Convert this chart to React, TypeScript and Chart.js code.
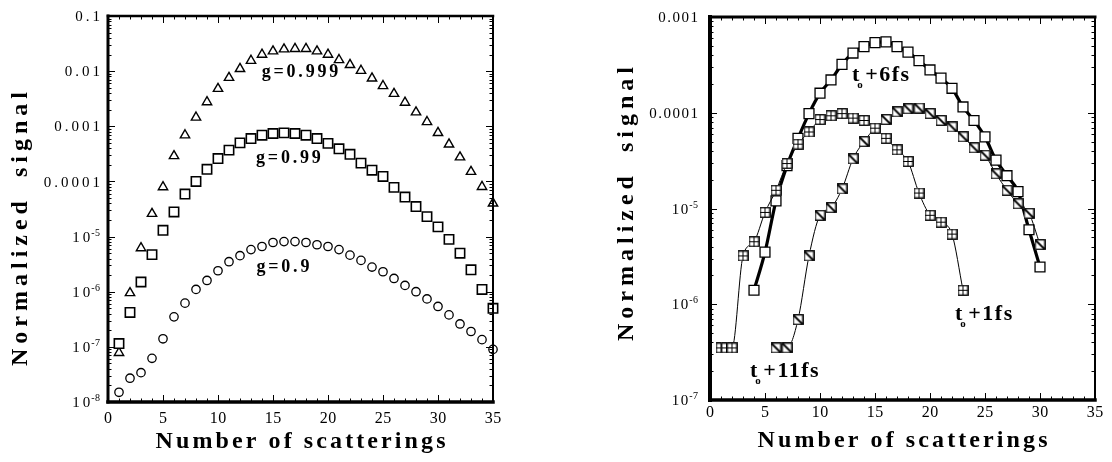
import React, { useEffect, useRef } from 'react';
import { Chart, registerables } from 'chart.js';
Chart.register(...registerables);

const SERIF = '"Liberation Serif", "Times New Roman", "DejaVu Serif", serif';

// ---------- Left panel data ----------
const scatterings = [1, 2, 3, 4, 5, 6, 7, 8, 9, 10, 11, 12, 13, 14, 15, 16, 17, 18, 19, 20, 21, 22, 23, 24, 25, 26, 27, 28, 29, 30, 31, 32, 33, 34, 35];
const g999 = [7.8e-8, 9.5e-7, 6.2e-6, 2.6e-5, 7.9e-5, 2.9e-4, 6.9e-4, 1.45e-3, 2.75e-3, 4.8e-3, 7.6e-3, 1.1e-2, 1.55e-2, 2.0e-2, 2.3e-2, 2.5e-2, 2.55e-2, 2.55e-2, 2.3e-2, 2.0e-2, 1.6e-2, 1.3e-2, 1.02e-2, 7.4e-3, 5.4e-3, 3.9e-3, 2.7e-3, 1.8e-3, 1.2e-3, 7.6e-4, 4.7e-4, 2.75e-4, 1.5e-4, 8e-5, 4e-5];
const g99 = [1.15e-7, 4.2e-7, 1.5e-6, 4.7e-6, 1.3e-5, 2.8e-5, 5.9e-5, 1.0e-4, 1.66e-4, 2.6e-4, 3.7e-4, 5.0e-4, 6.0e-4, 6.9e-4, 7.4e-4, 7.6e-4, 7.4e-4, 6.9e-4, 6.0e-4, 4.9e-4, 3.9e-4, 3.1e-4, 2.15e-4, 1.6e-4, 1.23e-4, 7.8e-5, 5.2e-5, 3.5e-5, 2.3e-5, 1.5e-5, 8.9e-6, 5e-6, 2.5e-6, 1.1e-6, 5e-7];
const g9 = [1.5e-8, 2.7e-8, 3.4e-8, 6.2e-8, 1.4e-7, 3.5e-7, 6.2e-7, 1.1e-6, 1.6e-6, 2.4e-6, 3.5e-6, 4.5e-6, 5.8e-6, 6.6e-6, 7.8e-6, 8.1e-6, 8.1e-6, 7.8e-6, 7.1e-6, 6.6e-6, 5.8e-6, 4.6e-6, 3.7e-6, 2.8e-6, 2.3e-6, 1.74e-6, 1.3e-6, 1.0e-6, 7.4e-7, 5.4e-7, 3.8e-7, 2.6e-7, 1.9e-7, 1.35e-7, 9e-8];

// ---------- Right panel data ----------
const xSix = [4, 5, 6, 7, 8, 9, 10, 11, 12, 13, 14, 15, 16, 17, 18, 19, 20, 21, 22, 23, 24, 25, 26, 27, 28, 29, 30];
const t6 = [1.4e-6, 3.5e-6, 1.2e-5, 2.8e-5, 5.4e-5, 9.8e-5, 1.6e-4, 2.2e-4, 3.2e-4, 4.2e-4, 4.9e-4, 5.4e-4, 5.5e-4, 4.9e-4, 4.3e-4, 3.5e-4, 2.8e-4, 2.3e-4, 1.8e-4, 1.15e-4, 8.3e-5, 5.6e-5, 3.2e-5, 2.2e-5, 1.5e-5, 6e-6, 2.45e-6];
const xOne = [1, 1.5, 2, 3, 4, 5, 6, 7, 8, 9, 10, 11, 12, 13, 14, 15, 16, 17, 18, 19, 20, 21, 22, 23];
const t1 = [3.5e-7, 3.5e-7, 3.5e-7, 3.2e-6, 4.5e-6, 9.1e-6, 1.55e-5, 2.95e-5, 4.7e-5, 6.3e-5, 8.5e-5, 9.3e-5, 9.8e-5, 8.8e-5, 8.3e-5, 6.9e-5, 5.4e-5, 4.1e-5, 3.1e-5, 1.45e-5, 8.5e-6, 7.2e-6, 5.4e-6, 1.4e-6];
const xEleven = [6, 7, 8, 9, 10, 11, 12, 13, 14, 15, 16, 17, 18, 19, 20, 21, 22, 23, 24, 25, 26, 27, 28, 29, 30];
const t11 = [3.5e-7, 3.5e-7, 6.9e-7, 3.2e-6, 8.5e-6, 1.02e-5, 1.6e-5, 3.3e-5, 5.0e-5, 6.9e-5, 8.5e-5, 1.02e-4, 1.1e-4, 1.12e-4, 9.8e-5, 8.3e-5, 7.1e-5, 5.6e-5, 4.3e-5, 3.6e-5, 2.3e-5, 1.55e-5, 1.12e-5, 8.9e-6, 4.2e-6];

// ---------- Tick labels ----------
const xTickValues = [0, 5, 10, 15, 20, 25, 30, 35];
const xTickLabels = ['0', '5', '10', '15', '20', '25', '30', '35'];
const leftYTickValues = [1e-1, 1e-2, 1e-3, 1e-4, 1e-5, 1e-6, 1e-7, 1e-8];
const leftYTickLabels = ['0.1', '0.01', '0.001', '0.0001', '10^-5', '10^-6', '10^-7', '10^-8'];
const rightYTickValues = [1e-3, 1e-4, 1e-5, 1e-6, 1e-7];
const rightYTickLabels = ['0.001', '0.0001', '10^-5', '10^-6', '10^-7'];

const xTitle = 'Number of scatterings';
const yTitle = 'Normalized signal';

function pts(xs: number[], ys: number[]) {
  return xs.map((x, i) => ({ x, y: ys[i] }));
}

function drawSpaced(ctx: CanvasRenderingContext2D, text: string, x: number, y: number, spacing: number, align: 'left' | 'center' | 'right') {
  (ctx as any).letterSpacing = spacing + 'px';
  ctx.textAlign = 'left';
  const w = ctx.measureText(text).width - spacing;
  let sx = x;
  if (align === 'center') sx = x - w / 2;
  else if (align === 'right') sx = x - w;
  ctx.fillText(text, sx, y);
  (ctx as any).letterSpacing = '0px';
}

const paperPlugin = {
  id: 'paper',
  afterDatasetsDraw(chart: any, _args: any, o: any) {
    const ctx: CanvasRenderingContext2D = chart.ctx;
    const a = chart.chartArea;
    const xs = chart.scales.x;
    const ys = chart.scales.y;
    ctx.save();
    ctx.fillStyle = '#000';
    ctx.strokeStyle = '#000';
    ctx.lineWidth = 1;
    const line = (x1: number, y1: number, x2: number, y2: number) => {
      ctx.beginPath();
      ctx.moveTo(x1, y1);
      ctx.lineTo(x2, y2);
      ctx.stroke();
    };
    // x ticks (inward, top and bottom)
    for (let v = xs.min; v <= xs.max + 1e-9; v += 1) {
      const px = Math.round(xs.getPixelForValue(v)) + 0.5;
      const len = v % 5 === 0 ? o.major : o.minor;
      line(px, a.bottom, px, a.bottom - len);
      line(px, a.top, px, a.top + len);
    }
    // y ticks (log, inward)
    const e0 = Math.round(Math.log10(ys.min));
    const e1 = Math.round(Math.log10(ys.max));
    for (let e = e0; e <= e1; e++) {
      for (let k = 1; k <= 9; k++) {
        const v = k * Math.pow(10, e);
        if (v > ys.max * 1.0001) break;
        const py = Math.round(ys.getPixelForValue(v)) + 0.5;
        const len = k === 1 ? o.major : o.minor;
        line(a.left, py, a.left + len, py);
        line(a.right, py, a.right - len, py);
      }
    }
    // frame
    ctx.lineCap = 'square';
    ctx.lineWidth = o.frame.left;
    line(a.left, a.top, a.left, a.bottom);
    ctx.lineWidth = o.frame.bottom;
    line(a.left, a.bottom, a.right, a.bottom);
    ctx.lineWidth = o.frame.top;
    line(a.left, a.top, a.right, a.top);
    ctx.lineWidth = o.frame.right;
    line(a.right, a.top, a.right, a.bottom);
    ctx.lineCap = 'butt';

    // y tick labels
    ctx.textBaseline = 'alphabetic';
    const yl = o.yLabels;
    yl.values.forEach((v: number, i: number) => {
      const py = ys.getPixelForValue(v);
      const lab: string = yl.labels[i];
      const right = a.left - yl.gap;
      if (lab.includes('^')) {
        const [b, e] = lab.split('^');
        ctx.font = `${yl.expSize}px ${SERIF}`;
        (ctx as any).letterSpacing = '0px';
        const ew = ctx.measureText(e).width;
        drawSpaced(ctx, e, right, py - 1, 0.5, 'right');
        ctx.font = `${yl.size}px ${SERIF}`;
        drawSpaced(ctx, b, right - ew - 1.5, py + yl.size * 0.34, yl.spacing, 'right');
      } else {
        ctx.font = `${yl.size}px ${SERIF}`;
        drawSpaced(ctx, lab, right, py + yl.size * 0.34, yl.spacing, 'right');
      }
    });
    // x tick labels
    const xl = o.xLabels;
    ctx.font = `${xl.size}px ${SERIF}`;
    xl.values.forEach((v: number, i: number) => {
      const px = xs.getPixelForValue(v);
      drawSpaced(ctx, xl.labels[i], px, a.bottom + xl.offset + xl.size * 0.34, xl.spacing, 'center');
    });
    // axis titles
    const tt = o.titles;
    ctx.font = `bold ${tt.size}px ${SERIF}`;
    drawSpaced(ctx, tt.x, (a.left + a.right) / 2, tt.xBaseline, tt.xSpacing, 'center');
    ctx.save();
    ctx.translate(tt.yBaselineX, tt.yCenter);
    ctx.rotate(-Math.PI / 2);
    (ctx as any).wordSpacing = tt.yWordSpacing + 'px';
    drawSpaced(ctx, tt.y, 0, 0, tt.ySpacing, 'center');
    (ctx as any).wordSpacing = '0px';
    ctx.restore();

    // annotations
    (o.notes || []).forEach((n: any) => {
      const px = xs.getPixelForValue(n.x);
      const py = ys.getPixelForValue(n.y);
      if (n.kind === 'plain') {
        ctx.font = `bold ${n.size}px ${SERIF}`;
        drawSpaced(ctx, n.text, px, py, n.spacing, 'center');
      } else {
        ctx.font = `bold ${n.size}px ${SERIF}`;
        (ctx as any).letterSpacing = '0px';
        ctx.textAlign = 'left';
        ctx.fillText('t', px, py);
        const tw = ctx.measureText('t').width;
        ctx.font = `bold ${Math.round(n.size * 0.5)}px ${SERIF}`;
        ctx.fillText('o', px + tw - 2, py + 7);
        ctx.font = `bold ${n.size}px ${SERIF}`;
        drawSpaced(ctx, n.text, px + tw + 6, py, n.spacing, 'left');
      }
    });
    ctx.restore();
  },
};

function makeMarker(kind: 'plus' | 'diag') {
  const c = document.createElement('canvas');
  const s = 11;
  c.width = s;
  c.height = s;
  const g = c.getContext('2d') as CanvasRenderingContext2D;
  g.fillStyle = '#fff';
  g.fillRect(0, 0, s, s);
  g.strokeStyle = '#000';
  g.lineWidth = 1.3;
  g.strokeRect(0.75, 0.75, s - 1.5, s - 1.5);
  g.beginPath();
  if (kind === 'plus') {
    g.lineWidth = 1;
    g.moveTo(s / 2, 1);
    g.lineTo(s / 2, s - 1);
    g.moveTo(1, s / 2);
    g.lineTo(s - 1, s / 2);
  } else {
    g.lineWidth = 1.8;
    g.moveTo(1, 1);
    g.lineTo(s - 1, s - 1);
  }
  g.stroke();
  return c;
}

function baseOptions(padding: any, yMin: number, yMax: number, yWidth: number, xHeight: number, paper: any) {
  return {
    animation: false,
    responsive: false,
    maintainAspectRatio: false,
    events: [],
    layout: { padding },
    plugins: { legend: { display: false }, tooltip: { enabled: false }, paper },
    scales: {
      x: {
        type: 'linear',
        min: 0,
        max: 35,
        ticks: { display: false },
        grid: { display: false },
        border: { display: false },
        afterFit: (s: any) => { s.height = xHeight; },
      },
      y: {
        type: 'logarithmic',
        min: yMin,
        max: yMax,
        ticks: { display: false },
        grid: { display: false },
        border: { display: false },
        afterFit: (s: any) => { s.width = yWidth; },
      },
    },
  };
}

export default function App() {
  const leftRef = useRef<HTMLCanvasElement>(null);
  const rightRef = useRef<HTMLCanvasElement>(null);

  useEffect(() => {
    const common = { showLine: false, clip: false as any, pointBackgroundColor: '#fff', pointBorderColor: '#000', borderColor: '#000' };
    const left = new Chart(leftRef.current as HTMLCanvasElement, {
      type: 'line',
      data: {
        datasets: [
          { ...common, label: 'g=0.9', data: pts(scatterings, g9), pointStyle: 'circle', pointRadius: 4.2, pointBorderWidth: 1.3 },
          { ...common, label: 'g=0.99', data: pts(scatterings, g99), pointStyle: 'rect', pointRadius: 6.6, pointBorderWidth: 1.6 },
          { ...common, label: 'g=0.999', data: pts(scatterings, g999), pointStyle: 'triangle', pointRadius: 5.4, pointBorderWidth: 1.4 },
        ],
      },
      options: baseOptions({ left: 0, top: 16, right: 63, bottom: 0 }, 1e-8, 0.1, 108, 60, {
        major: 7,
        minor: 3.5,
        frame: { left: 3, bottom: 3.5, top: 2.5, right: 2 },
        yLabels: { values: leftYTickValues, labels: leftYTickLabels, gap: 8, size: 15, expSize: 10, spacing: 3 },
        xLabels: { values: xTickValues, labels: xTickLabels, offset: 16, size: 16, spacing: 0.5 },
        titles: { size: 24, x: xTitle, xBaseline: 448, xSpacing: 3.1, y: yTitle, yBaselineX: 27, yCenter: 229, ySpacing: 5, yWordSpacing: 8 },
        notes: [
          { kind: 'plain', text: 'g=0.999', x: 17.45, y: 7.8e-3, size: 18, spacing: 2.8 },
          { kind: 'plain', text: 'g=0.99', x: 16.4, y: 2.13e-4, size: 18, spacing: 2.8 },
          { kind: 'plain', text: 'g=0.9', x: 15.9, y: 2.3e-6, size: 18, spacing: 2.8 },
        ],
      }) as any,
      plugins: [paperPlugin],
    });

    const plus = makeMarker('plus');
    const diag = makeMarker('diag');
    const lineCommon = { showLine: true, clip: false as any, cubicInterpolationMode: 'monotone' as any, borderColor: '#000', pointBackgroundColor: '#fff', pointBorderColor: '#000' };
    const right = new Chart(rightRef.current as HTMLCanvasElement, {
      type: 'line',
      data: {
        datasets: [
          { ...lineCommon, label: 't0+1fs', data: pts(xOne, t1), borderWidth: 1, pointStyle: plus as any, pointRadius: 5 },
          { ...lineCommon, label: 't0+11fs', data: pts(xEleven, t11), borderWidth: 1, pointStyle: diag as any, pointRadius: 5 },
          { ...lineCommon, label: 't0+6fs', data: pts(xSix, t6), borderWidth: 3.2, pointStyle: 'rect', pointRadius: 7, pointBorderWidth: 1.3 },
        ],
      },
      options: baseOptions({ left: 0, top: 17, right: 17, bottom: 0 }, 1e-7, 1e-3, 154, 62, {
        major: 7,
        minor: 3.5,
        frame: { left: 4, bottom: 3.5, top: 3, right: 2 },
        yLabels: { values: rightYTickValues, labels: rightYTickLabels, gap: 12, size: 15, expSize: 10, spacing: 1.5 },
        xLabels: { values: xTickValues, labels: xTickLabels, offset: 12, size: 16, spacing: 0.5 },
        titles: { size: 24, x: xTitle, xBaseline: 447, xSpacing: 3.1, y: yTitle, yBaselineX: 77, yCenter: 204, ySpacing: 5, yWordSpacing: 8 },
        notes: [
          { kind: 't', text: '+6fs', x: 12.9, y: 2.15e-4, size: 22, spacing: 1.5 },
          { kind: 't', text: '+11fs', x: 3.64, y: 1.74e-7, size: 22, spacing: 1.5 },
          { kind: 't', text: '+1fs', x: 22.27, y: 6.85e-7, size: 22, spacing: 1.5 },
        ],
      }) as any,
      plugins: [paperPlugin],
    });

    return () => {
      left.destroy();
      right.destroy();
    };
  }, []);

  return (
    <div style={{ position: 'absolute', left: 0, top: 0, width: 1112, height: 462, background: '#fff' }}>
      <canvas ref={leftRef} width={556} height={462} style={{ position: 'absolute', left: 0, top: 0, width: 556, height: 462 }} />
      <canvas ref={rightRef} width={556} height={462} style={{ position: 'absolute', left: 556, top: 0, width: 556, height: 462 }} />
    </div>
  );
}
